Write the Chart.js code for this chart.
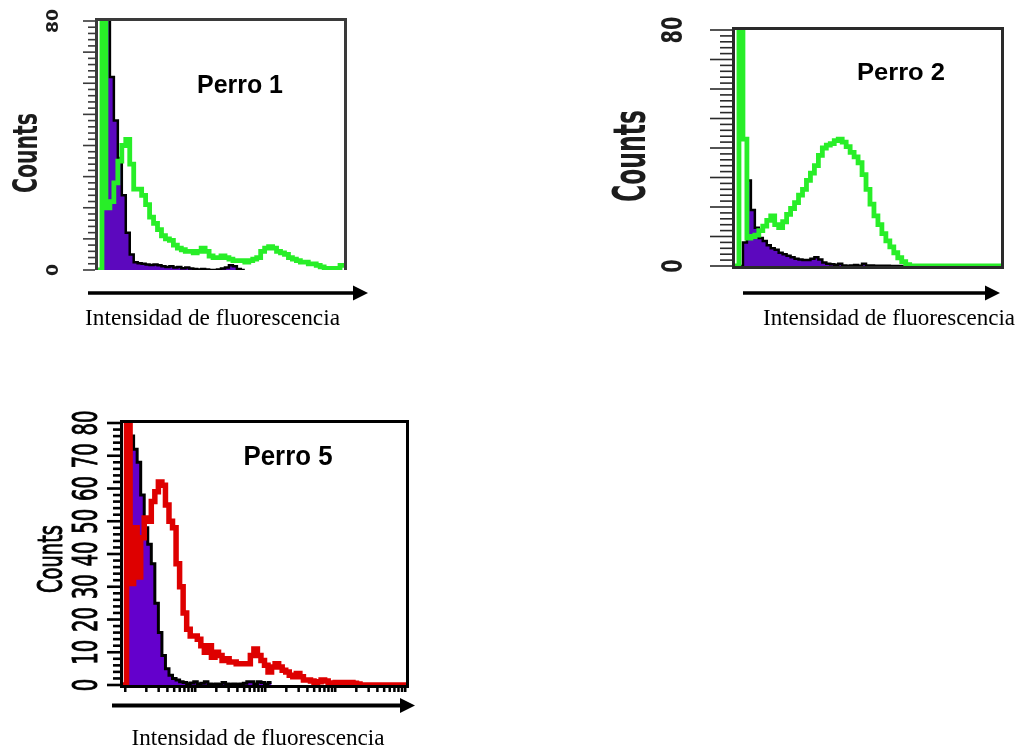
<!DOCTYPE html>
<html>
<head>
<meta charset="utf-8">
<title>Intensidad de fluorescencia - Perros</title>
<script src="https://cdn.jsdelivr.net/npm/chart.js@4.4.1/dist/chart.umd.min.js"></script>
<style>
  html, body { margin: 0; padding: 0; background: #fff; }
  #stage { position: relative; width: 1024px; height: 751px; overflow: hidden; }
  #stage canvas { position: absolute; left: 0; top: 0; }
</style>
</head>
<body>
<div id="stage">
  <canvas id="perro1" width="1024" height="751"></canvas>
  <canvas id="perro2" width="1024" height="751"></canvas>
  <canvas id="perro5" width="1024" height="751"></canvas>
</div>
<script>
// Histogram counts per channel bin (stained sample vs. unstained control)
const perro1Stained = [0, 90, 20, 22, 28, 35, 40, 42, 34, 26, 26, 24, 21, 17, 15, 13, 11, 10, 9.5, 8,
  7, 6.5, 6, 6, 5.5, 6, 7, 6, 4.5, 4, 4, 4.5, 4, 3.5, 3, 3, 3, 2.5, 3, 3.5,
  4, 6, 7, 7.5, 7, 6, 5.5, 5, 4, 3.5, 3, 2.5, 2.5, 2, 2, 1.5, 1, 0.5, 0.5, 0.3, 0.5, 1.5];
const perro1Control = [0, 90, 88, 62, 48, 36, 24, 12, 5, 2.5, 2.2, 2, 1.8, 1.6, 1.8, 1.5, 1.2, 1, 1.2, 0.8,
  1, 0.6, 0.8, 0.5, 0.3, 0.2, 0.3, 0.2, 0, 0, 0.2, 0.5, 0.8, 1.5, 1.2, 0.3, 0];

const perro2Stained = [0, 90, 43, 9.5, 10, 10.5, 12, 13.5, 15.5, 17, 14, 13, 15, 17.5, 19.5, 21.5, 24, 26, 29, 31.5,
  34, 37.5, 40, 41, 41.5, 42.5, 43, 42, 40.5, 38.5, 37, 35, 31, 26, 21, 17, 14, 11, 8.5, 6.5,
  4.5, 2.8, 1.5, 0.5, 0, 0, 0, 0, 0, 0, 0, 0, 0, 0, 0, 0, 0, 0, 0, 0, 0, 0, 0, 0, 0, 0, 0];
const perro2Control = [0, 0, 8, 29, 19, 13, 9.5, 8.5, 7, 6, 5.5, 4.5, 4, 3.5, 3, 2.5, 2.2, 2, 2, 2.5,
  3, 2.2, 1.2, 0.8, 0.6, 0.4, 0.8, 0.2, 0.1, 0.2, 0.3, 0.1, 0.8, 0.2, 0.2, 0.1, 0.1, 0.1, 0.1, 0,
  0, 0, 0];

const perro5Stained = [0, 90, 31, 48, 33, 45, 51, 50, 56, 59, 62, 61, 55, 50, 48, 37, 30, 22, 17, 15,
  15, 14, 12, 10, 12, 8.5, 10, 9, 7.5, 8, 7, 7, 6.5, 6.5, 6.5, 6.5, 9, 11, 9, 7.5,
  6, 4, 5.5, 6.5, 5.5, 4.5, 4, 3, 2.5, 3.5, 2.5, 1.5, 1.5, 1.2, 0.8, 1, 1.5, 1.2, 0.6, 0.5,
  0.8, 0.8, 0.8, 0.8, 0.8, 0.5, 0.3, 0, 0, 0, 0, 0, 0, 0, 0, 0, 0, 0, 0, 0];
const perro5Control = [0, 85, 76, 72, 68, 58, 48, 43, 37, 25, 16, 9, 5, 3, 2, 1.5, 1, 0.8, 0.4, 0.6,
  1, 0.3, 0.5, 1, 0.3, 0.2, 0.3, 0.2, 0.8, 0.3, 0.2, 0.3, 0.2, 0.3, 0.5, 1, 1, 0.3, 1, 0.8,
  0.3, 0.8];

const countMax = 80;
const shortLabels = [0, 80];
const fullLabels = [0, 10, 20, 30, 40, 50, 60, 70, 80];
const logDecades = [1, 10, 100, 1000];
const logMultipliers = [1, 2, 3, 4, 5, 6, 7, 8, 9];

const W = 1024, H = 751;

// one stepped point per bin edge, last bin closed at the right
function toSteps(counts) {
  const pts = counts.map((c, i) => ({ x: i, y: c }));
  pts.push({ x: counts.length, y: counts[counts.length - 1] });
  return pts;
}

// text turned to read bottom-to-top, squeezed to a given length
function drawRotated(ctx, text, cx, cy, len, h, font, weightPx) {
  ctx.save();
  ctx.font = font.replace('{size}', (h / 0.73).toFixed(1) + 'px');
  const w = ctx.measureText(text).width;
  ctx.translate(cx, cy);
  ctx.rotate(-Math.PI / 2);
  ctx.scale(len / w, 1);
  ctx.textAlign = 'center';
  ctx.textBaseline = 'alphabetic';
  ctx.fillText(text, 0, h / 2);
  if (weightPx) {
    ctx.strokeStyle = ctx.fillStyle;
    ctx.lineWidth = weightPx;
    ctx.strokeText(text, 0, h / 2);
  }
  ctx.restore();
}

function drawFitted(ctx, text, cx, baseline, width, font) {
  ctx.save();
  ctx.font = font;
  const w = ctx.measureText(text).width;
  ctx.translate(cx, baseline);
  ctx.scale(width / w, 1);
  ctx.textAlign = 'center';
  ctx.textBaseline = 'alphabetic';
  ctx.fillText(text, 0, 0);
  ctx.restore();
}

function drawArrow(ctx, a) {
  ctx.save();
  ctx.fillStyle = '#000';
  const headStart = a.tip - a.head;
  ctx.fillRect(a.x0, a.y - a.w / 2, headStart - a.x0 + 1, a.w);
  ctx.beginPath();
  ctx.moveTo(headStart, a.y - a.half);
  ctx.lineTo(a.tip, a.y);
  ctx.lineTo(headStart, a.y + a.half);
  ctx.closePath();
  ctx.fill();
  ctx.restore();
}

function decor(cfg) {
  const d = cfg.deco;
  return {
    id: 'decor_' + cfg.id,
    beforeDatasetsDraw(chart) {
      // the scanned panels are a little soft
      chart.ctx.save();
      if (d.soft) chart.ctx.filter = 'blur(' + d.soft + 'px)';
    },
    afterDatasetsDraw(chart) {
      const ctx = chart.ctx;
      const a = chart.chartArea;
      const ys = chart.scales.y;

      // frame round the plot
      ctx.save();
      ctx.strokeStyle = d.frameColor;
      ctx.lineWidth = d.frameWidth;
      const o = d.frameWidth / 2;
      const l = a.left - o, r = a.right + o, t = a.top - o, b = a.bottom + o;
      ctx.beginPath();
      if (d.frameBottom) {
        ctx.rect(l, t, r - l, b - t);
      } else {
        ctx.moveTo(l, a.bottom);
        ctx.lineTo(l, t);
        ctx.lineTo(r, t);
        ctx.lineTo(r, a.bottom);
      }
      ctx.stroke();
      ctx.restore();

      // ruler ticks on the count axis: long every 10, short every 2
      ctx.save();
      ctx.fillStyle = d.tickColor;
      const edge = a.left - d.frameWidth;
      for (let v = 0; v <= countMax; v += 2) {
        const y = ys.getPixelForValue(v);
        const len = v % 10 === 0 ? d.tickLong : d.tickShort;
        ctx.fillRect(edge - len, y - d.tickWidth / 2, len, d.tickWidth);
      }
      ctx.fillStyle = d.textColor;
      d.labels.forEach(v => {
        const s = String(v);
        drawRotated(ctx, s, d.labelX, ys.getPixelForValue(v), d.labelAdvance * s.length,
          d.labelHeight, d.labelFont, d.labelStroke);
      });
      drawRotated(ctx, 'Counts', d.counts.x, d.counts.y, d.counts.len, d.counts.h, d.labelFont, d.labelStroke);
      ctx.restore();

      // log channel ticks under the plot
      if (chart.scales.xl) {
        const xl = chart.scales.xl;
        ctx.save();
        ctx.fillStyle = '#000';
        const vals = [];
        logDecades.forEach(dec => logMultipliers.forEach(m => vals.push(dec * m)));
        vals.push(10000);
        vals.forEach(v => {
          const x = xl.getPixelForValue(v);
          ctx.fillRect(x - 1, a.bottom + d.frameWidth, 2.5, 4);
        });
        ctx.restore();
      }

      ctx.save();
      ctx.fillStyle = '#000';
      drawFitted(ctx, d.title.text, d.title.x, d.title.y, d.title.w, d.title.font);
      ctx.restore();

      ctx.restore();

      ctx.save();
      ctx.fillStyle = '#000';
      drawFitted(ctx, 'Intensidad de fluorescencia', d.axis.x, d.axis.y, d.axis.w, '24px "Liberation Serif"');
      ctx.restore();
      drawArrow(ctx, d.arrow);
    }
  };
}

function buildPanel(cfg) {
  const a = cfg.area;
  const scales = {
    x: { type: 'linear', min: 0, max: cfg.stained.length, display: false },
    y: { type: 'linear', min: 0, max: countMax, display: false }
  };
  if (cfg.logRange) {
    scales.xl = { type: 'logarithmic', axis: 'x', min: cfg.logRange[0], max: cfg.logRange[1], display: false };
  }
  return new Chart(document.getElementById(cfg.id), {
    type: 'line',
    data: {
      datasets: [{
        data: toSteps(cfg.stained),
        stepped: true,
        borderColor: cfg.lineColor,
        borderWidth: cfg.lineWidth,
        fill: false,
        pointRadius: 0,
        clip: cfg.clip
      }, {
        data: toSteps(cfg.control),
        stepped: true,
        borderColor: '#000',
        borderWidth: cfg.outlineWidth,
        backgroundColor: cfg.fillColor,
        fill: 'origin',
        pointRadius: 0,
        clip: cfg.clip
      }]
    },
    options: {
      responsive: false,
      animation: false,
      events: [],
      layout: { padding: { left: a.left, top: a.top, right: W - a.right, bottom: H - a.bottom } },
      plugins: { legend: { display: false }, tooltip: { enabled: false } },
      scales: scales
    },
    plugins: [decor(cfg)]
  });
}

buildPanel({
  id: 'perro1',
  area: { left: 98, top: 21, right: 344, bottom: 270 },
  stained: perro1Stained,
  control: perro1Control,
  lineColor: 'rgb(40, 238, 40)',
  lineWidth: 4.8,
  fillColor: 'rgb(92, 8, 190)',
  outlineWidth: 2.5,
  clip: { left: 3, top: 3, right: 3, bottom: 0 },
  deco: {
    soft: 0.6,
    frameColor: '#3a3a3a', frameWidth: 3, frameBottom: false,
    tickColor: '#3a3a3a', tickWidth: 1.6, tickLong: 12, tickShort: 7,
    textColor: '#1c1c1c', labelFont: 'bold {size} "DejaVu Sans"', labelStroke: 0,
    labels: shortLabels, labelX: 52, labelHeight: 11.5, labelAdvance: 12,
    counts: { x: 24, y: 153, len: 80, h: 25 },
    title: { text: 'Perro 1', x: 240, y: 93, w: 86, font: 'bold 25px "Liberation Sans"' },
    axis: { x: 212.5, y: 325, w: 255 },
    arrow: { x0: 88, tip: 368, y: 293, w: 3.5, head: 15, half: 7.5 }
  }
});

buildPanel({
  id: 'perro2',
  area: { left: 735, top: 30, right: 1001, bottom: 266 },
  stained: perro2Stained,
  control: perro2Control,
  lineColor: 'rgb(40, 238, 40)',
  lineWidth: 4.8,
  fillColor: 'rgb(92, 8, 190)',
  outlineWidth: 2.5,
  clip: { left: 3, top: 3, right: 3, bottom: 3 },
  deco: {
    soft: 0.6,
    frameColor: '#2a2a2a', frameWidth: 3, frameBottom: true,
    tickColor: '#2a2a2a', tickWidth: 1.6, tickLong: 22, tickShort: 12,
    textColor: '#1c1c1c', labelFont: 'bold {size} "DejaVu Sans"', labelStroke: 0,
    labels: shortLabels, labelX: 671, labelHeight: 21, labelAdvance: 13.5,
    counts: { x: 628, y: 156, len: 92, h: 33 },
    title: { text: 'Perro 2', x: 901, y: 80, w: 88, font: 'bold 23px "Liberation Sans"' },
    axis: { x: 889, y: 325, w: 252 },
    arrow: { x0: 743, tip: 1000, y: 293, w: 3.5, head: 15, half: 7.5 }
  }
});

buildPanel({
  id: 'perro5',
  area: { left: 123, top: 423, right: 406, bottom: 685 },
  stained: perro5Stained,
  control: perro5Control,
  lineColor: 'rgb(222, 0, 0)',
  lineWidth: 5.5,
  fillColor: 'rgb(100, 0, 204)',
  outlineWidth: 3,
  clip: { left: 3, top: 3, right: 3, bottom: 3 },
  logRange: [0.936, 10335],
  deco: {
    soft: 0,
    frameColor: '#000', frameWidth: 3, frameBottom: true,
    tickColor: '#000', tickWidth: 2.6, tickLong: 13, tickShort: 7,
    textColor: '#000', labelFont: '{size} "DejaVu Sans"', labelStroke: 1,
    labels: fullLabels, labelX: 85, labelHeight: 24, labelAdvance: 12.5,
    counts: { x: 50, y: 559, len: 68, h: 24 },
    title: { text: 'Perro 5', x: 288, y: 465, w: 89, font: 'bold 27px "Liberation Sans"' },
    axis: { x: 258, y: 745, w: 253 },
    arrow: { x0: 112, tip: 415, y: 705.5, w: 4, head: 15, half: 7.5 }
  }
});
</script>
</body>
</html>
